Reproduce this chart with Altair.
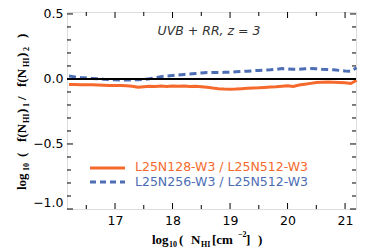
import altair as alt
import pandas as pd

# ---- data ----
x_vals = [16.2, 16.3, 16.4, 16.5, 16.6, 16.7, 16.8, 16.9, 17.0, 17.1,
          17.2, 17.3, 17.4, 17.5, 17.6, 17.7, 17.8, 17.9, 18.0, 18.1,
          18.2, 18.3, 18.4, 18.5, 18.6, 18.7, 18.8, 18.9, 19.0, 19.1,
          19.2, 19.3, 19.4, 19.5, 19.6, 19.7, 19.8, 19.9, 20.0, 20.1,
          20.2, 20.3, 20.4, 20.5, 20.6, 20.7, 20.8, 20.9, 21.0, 21.1, 21.2]
ratio_128 = [-0.042, -0.043, -0.044, -0.045, -0.045, -0.046, -0.048, -0.050, -0.050, -0.051,
             -0.053, -0.056, -0.064, -0.060, -0.056, -0.058, -0.055, -0.057, -0.055, -0.056,
             -0.054, -0.057, -0.056, -0.060, -0.064, -0.070, -0.075, -0.078, -0.080, -0.078,
             -0.075, -0.072, -0.070, -0.068, -0.065, -0.062, -0.060, -0.056, -0.052, -0.058,
             -0.046, -0.040, -0.034, -0.028, -0.025, -0.024, -0.026, -0.028, -0.030, -0.035, -0.010]
ratio_256 = [0.022, 0.016, 0.011, 0.007, 0.004, 0.001, -0.002, -0.004, -0.006, -0.008,
             -0.008, -0.007, -0.006, -0.004, 0.002, 0.010, 0.018, 0.023, 0.027, 0.031,
             0.035, 0.038, 0.042, 0.046, 0.049, 0.050, 0.050, 0.051, 0.052, 0.055,
             0.058, 0.060, 0.063, 0.066, 0.068, 0.070, 0.074, 0.080, 0.078, 0.074,
             0.075, 0.078, 0.080, 0.078, 0.074, 0.072, 0.070, 0.066, 0.062, 0.060, 0.086]

x_major = [17, 18, 19, 20, 21]
x_minor = [16.5, 17.5, 18.5, 19.5, 20.5]
y_major = [-1.0, -0.5, 0.0, 0.5]
y_minor = [-0.9, -0.8, -0.7, -0.6, -0.4, -0.3, -0.2, -0.1, 0.1, 0.2, 0.3, 0.4]

label_128 = "L25N128-W3 / L25N512-W3"
label_256 = "L25N256-W3 / L25N512-W3"
annotation = "UVB + RR, z = 3"

ORANGE = "#F56A2C"
BLUE = "#4D6DB4"

W, H = 289, 197
xs = alt.Scale(domain=[16.165, 21.19], nice=False, zero=False)
ys = alt.Scale(domain=[-1.0, 0.515], nice=False, zero=False)

df128 = pd.DataFrame({"x": x_vals, "y": ratio_128})
df256 = pd.DataFrame({"x": x_vals, "y": ratio_256})

TICKFONT = "DejaVu Sans"
SERIF = "Liberation Serif"

x_axis = alt.Axis(values=x_major, ticks=False, domain=False, grid=False, title=None,
                  labelFont=TICKFONT, labelFontSize=12.5, labelColor="black",
                  labelPadding=5, labelFlush=False, format="d")
y_axis = alt.Axis(values=y_major, ticks=False, domain=False, grid=False, title=None,
                  labelFont=TICKFONT, labelFontSize=12.5, labelColor="black",
                  labelPadding=4, labelFlush=True, format=".1f")

line128 = alt.Chart(df128).mark_line(color=ORANGE, strokeWidth=3).encode(
    x=alt.X("x:Q", scale=xs, axis=x_axis),
    y=alt.Y("y:Q", scale=ys, axis=y_axis),
)
line256 = alt.Chart(df256).mark_line(color=BLUE, strokeWidth=3, strokeDash=[7, 4]).encode(
    x=alt.X("x:Q", scale=xs),
    y=alt.Y("y:Q", scale=ys),
)

zero = alt.Chart(pd.DataFrame({"v": [0.0]})).mark_rule(color="black", strokeWidth=2).encode(
    y=alt.Y("v:Q", scale=ys), x=alt.value(0), x2=alt.value(W))


def yticks(vals, length):
    d = pd.DataFrame({"v": vals})
    left = alt.Chart(d).mark_rule(color="black", strokeWidth=1).encode(
        y=alt.Y("v:Q", scale=ys), x=alt.value(0), x2=alt.value(length))
    right = alt.Chart(d).mark_rule(color="black", strokeWidth=1).encode(
        y=alt.Y("v:Q", scale=ys), x=alt.value(W - length), x2=alt.value(W))
    return [left, right]


def xticks(vals, length):
    d = pd.DataFrame({"v": vals})
    bottom = alt.Chart(d).mark_rule(color="black", strokeWidth=1).encode(
        x=alt.X("v:Q", scale=xs), y=alt.value(H - length), y2=alt.value(H))
    top = alt.Chart(d).mark_rule(color="black", strokeWidth=1).encode(
        x=alt.X("v:Q", scale=xs), y=alt.value(0), y2=alt.value(length))
    return [bottom, top]


one = alt.Data(values=[{}])


def seg(text, px, py, fs, angle=0, font=SERIF, weight="bold", color="black",
        align="left", style="normal"):
    return alt.Chart(one).mark_text(
        text=text, font=font, fontSize=fs, fontWeight=weight, fontStyle=style,
        angle=angle, align=align, baseline="alphabetic", color=color,
    ).encode(x=alt.value(px), y=alt.value(py))


OX, OY = 67, 12  # plot origin in page pixels
texts = []
# x-axis title: log10 ( N_HI [cm^-2] )
for t, px, py, fs in [("log", 152, 244, 13), ("10", 169, 247, 8), ("(", 179, 244, 13),
                      ("N", 191, 244, 13), ("HI", 201, 247, 8), ("[cm", 212, 244, 13),
                      ("\u22122", 238, 237, 8), ("]", 246, 244, 13), (")", 258, 244, 13)]:
    texts.append(seg(t, px - OX, py - OY, fs))
# y-axis title: log10 ( f(N_HI)_1 / f(N_HI)_2 )
for t, px, py, fs in [("log", 26, 190, 13), ("10", 29, 171, 8), ("(", 26, 157, 13),
                      ("f(N", 26, 142, 13), ("HI", 29, 123, 8), (")", 26, 113, 13),
                      ("1", 29, 107, 8), ("/", 26, 100, 13), ("f(N", 26, 87, 13),
                      ("HI", 29, 67, 8), (")", 26, 57, 13), ("2", 29, 51, 8),
                      (")", 26, 38, 13)]:
    texts.append(seg(t, px - OX, py - OY, fs, angle=270))

# annotation
texts.append(seg(annotation, 209 - OX, 35 - OY, 12.5, font="DejaVu Sans", weight="normal",
                 color="#333333", align="center", style="italic"))

# legend
leg_line1 = alt.Chart(one).mark_rule(color=ORANGE, strokeWidth=3).encode(
    x=alt.value(90 - OX), x2=alt.value(125 - OX), y=alt.value(168 - OY))
leg_line2 = alt.Chart(one).mark_rule(color=BLUE, strokeWidth=3, strokeDash=[6, 4]).encode(
    x=alt.value(90 - OX), x2=alt.value(125 - OX), y=alt.value(182 - OY))
texts.append(seg(label_128, 135 - OX, 171 - OY, 12.5, font="DejaVu Sans", weight="normal",
                 color=ORANGE))
texts.append(seg(label_256, 135 - OX, 186 - OY, 12.5, font="DejaVu Sans", weight="normal",
                 color=BLUE))

layers = ([line128, line256, zero]
          + yticks(y_major, 6) + yticks(y_minor, 4)
          + xticks(x_major, 6) + xticks(x_minor, 4)
          + [leg_line1, leg_line2] + texts)

chart = alt.layer(*layers).properties(
    width=W, height=H,
    autosize=alt.AutoSizeParams(type="none"),
    padding={"left": OX - 8, "top": OY - 8, "right": 10, "bottom": 41},
).configure_view(stroke="black", strokeWidth=2).configure(background="white")

chart.save("out.html", embed_options={"renderer": "svg", "actions": False})
